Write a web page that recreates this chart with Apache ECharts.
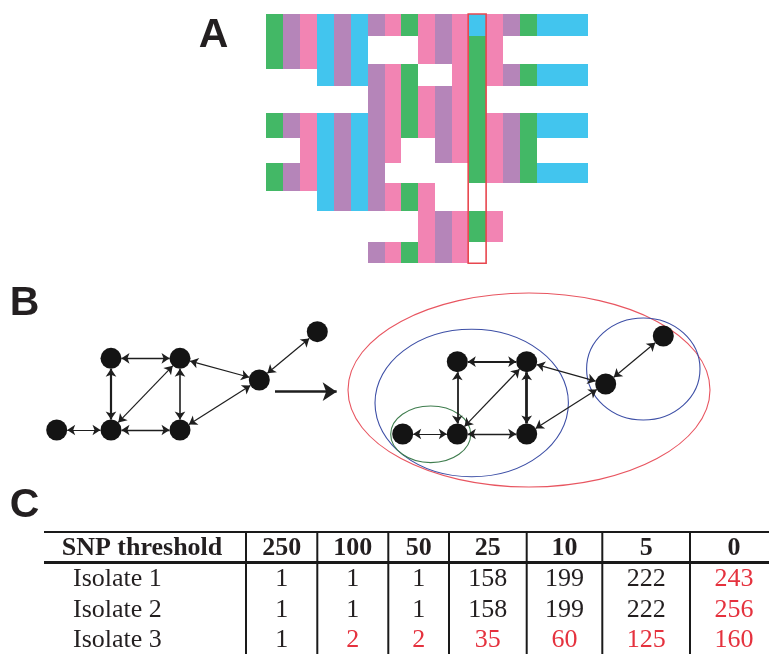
<!DOCTYPE html>
<html><head><meta charset="utf-8">
<script src="https://cdn.jsdelivr.net/npm/echarts@6/dist/echarts.min.js"></script>
<style>html,body{margin:0;padding:0;background:#fff}#c{width:769px;height:654px}</style>
</head><body><div id="c"></div><script>
// ---------- Panel A: read alignment ----------
const bases = ['A', 'C', 'G', 'T'];
const baseColors = ['#43b866', '#b585b9', '#f284b3', '#42c5ee'];
const alignmentRows = [
  "ACGTCTCGAGCGTGCATTT",
  "ACGTCT---GCGAG-----",
  "ACGTCTCGA--GAGCATTT",
  "---TCTCGA--GAGCATTT",
  "------CGAGCGA------",
  "ACGTCTCGAGCGAGCATTT",
  "--GTCTCG--CGAGCA---",
  "ACGTCTC-----AGCATTT",
  "ACGTCTCGAG---------",
  "---TCTCGAG---------",
  "---------GCGAG-----",
  "------CGAGCG-------"
];
const rowEdges = [0, 22, 50, 55, 72, 98.5, 123.5, 149, 168.5, 177, 196.7, 228, 249.3];
const snpColumn = 12;

// ---------- Panel B: networks ----------
const nodesBefore = [[5.67,15.0],[11.1,15.0],[18.0,15.0],[11.1,7.83],[18.0,7.83],[25.93,10.0],[31.73,5.17]];
const nodesAfter  = [[40.27,15.4],[45.73,15.4],[52.67,15.4],[45.73,8.17],[52.67,8.17],[60.57,10.4],[66.33,5.6]];
const edgeList = [[0,1],[1,2],[1,3],[3,4],[4,2],[1,4],[4,5],[2,5],[5,6]];
const edgeWidthBefore = [1.2,1.3,2.2,1.3,1.6,1.2,1.2,1.2,1.2];
const edgeWidthAfter  = [1.2,1.3,1.8,1.8,2.8,1.2,1.2,1.2,1.2];
const transitionArrow = [[27.5,11.17],[33.67,11.17]];
const clusterCenters = [[52.9,11.0],[47.17,12.3],[64.33,8.9],[43.07,15.43]];
const clusterRadii   = [[18.1,9.7],[9.67,7.37],[5.67,5.1],[4.0,2.83]];
const clusterColors  = ['#e85560','#3d4fa6','#3d4fa6','#3f7d4e'];

// ---------- Panel C: table ----------
const tableHeader = 'SNP threshold';
const thresholds = ['250','100','50','25','10','5','0'];
const isolates = ['Isolate 1','Isolate 2','Isolate 3'];
const isolate1 = [1,1,1,158,199,222,243];
const isolate2 = [1,1,1,158,199,222,256];
const isolate3 = [1,2,2,35,60,125,160];
const isolate1New = [0,0,0,0,0,0,1];
const isolate2New = [0,0,0,0,0,0,1];
const isolate3New = [0,1,1,1,1,1,1];
const colEdges = [202, 273.3, 344.3, 405, 482.7, 558.3, 646, 734];

// ---------- build ----------
const cellData = [];
alignmentRows.forEach((row, s) => {
  for (let c = 0; c < row.length; c++) {
    const b = bases.indexOf(row[c]);
    if (b >= 0) cellData.push([c, s, b]);
  }
});

const tableValues = [isolate1, isolate2, isolate3];
const tableNew = [isolate1New, isolate2New, isolate3New];
const textData = [];
textData.push({ value: [17.7, 0], t: tableHeader, bold: true, left: true, red: false });
thresholds.forEach((t, i) => textData.push({ value: [(colEdges[i] + colEdges[i+1]) / 2, 0], t, bold: true, left: false, red: false }));
isolates.forEach((name, r) => {
  textData.push({ value: [29, r + 1], t: name, bold: false, left: true, red: false });
  tableValues[r].forEach((v, i) => textData.push({ value: [(colEdges[i] + colEdges[i+1]) / 2, r + 1], t: String(v), bold: false, left: false, red: !!tableNew[r][i] }));
});

const chart = echarts.init(document.getElementById('c'), null, { renderer: 'canvas' });
const hidden = { show: false };
chart.setOption({
  animation: false,
  backgroundColor: '#fff',
  grid: [
    { left: 266, top: 14, width: 321.7, height: 249.3 },
    { left: 0, top: 280, width: 769, height: 220 },
    { left: 44, top: 532, width: 725, height: 128 }
  ],
  xAxis: [
    { type: 'value', gridIndex: 0, min: 0, max: 19, ...hidden },
    { type: 'value', gridIndex: 1, min: 0, max: 76.9, ...hidden },
    { type: 'value', gridIndex: 2, min: 0, max: 725, ...hidden }
  ],
  yAxis: [
    { type: 'value', gridIndex: 0, min: 0, max: 249.3, inverse: true, ...hidden },
    { type: 'value', gridIndex: 1, min: 0, max: 22, inverse: true, ...hidden },
    { type: 'category', gridIndex: 2, data: ['header'].concat(isolates), inverse: true, ...hidden }
  ],
  graphic: [
    { type: 'text', x: 213.5, y: 36, style: { text: 'A', font: 'bold 41px "Liberation Sans"', fill: '#231f20', align: 'center', verticalAlign: 'middle' } },
    { type: 'text', x: 24.5, y: 303.5, style: { text: 'B', font: 'bold 41px "Liberation Sans"', fill: '#231f20', align: 'center', verticalAlign: 'middle' } },
    { type: 'text', x: 24.5, y: 505.5, style: { text: 'C', font: 'bold 41px "Liberation Sans"', fill: '#231f20', align: 'center', verticalAlign: 'middle' } }
  ],
  series: [
    {
      type: 'custom', xAxisIndex: 0, yAxisIndex: 0, data: cellData, silent: true,
      renderItem: (params, api) => {
        const c = api.value(0), s = api.value(1), b = api.value(2);
        const p0 = api.coord([c, rowEdges[s]]), p1 = api.coord([c + 1, rowEdges[s + 1]]);
        const x = Math.round(p0[0]), y = Math.round(p0[1]);
        return { type: 'rect', shape: { x, y, width: Math.round(p1[0]) - x, height: Math.round(p1[1]) - y }, style: { fill: baseColors[b] } };
      }
    },
    {
      type: 'custom', xAxisIndex: 0, yAxisIndex: 0, data: [[snpColumn, 0]], silent: true, z: 5,
      renderItem: (params, api) => {
        const c = api.value(0);
        const p0 = api.coord([c, rowEdges[0]]), p1 = api.coord([c + 1, rowEdges[rowEdges.length - 1]]);
        return { type: 'rect', shape: { x: p0[0] - 1, y: p0[1], width: p1[0] - p0[0] + 1, height: p1[1] - p0[1] }, style: { fill: 'none', stroke: '#e8474f', lineWidth: 1.6 } };
      }
    },
    {
      type: 'custom', xAxisIndex: 1, yAxisIndex: 1, silent: true,
      data: clusterCenters.map((c, i) => [c[0], c[1], i]),
      renderItem: (params, api) => {
        const i = api.value(2);
        const p = api.coord([api.value(0), api.value(1)]);
        const r = api.size(clusterRadii[i]);
        return { type: 'ellipse', shape: { cx: p[0], cy: p[1], rx: r[0], ry: r[1] }, style: { fill: 'none', stroke: clusterColors[i], lineWidth: 1.1 } };
      }
    },
    ...[[nodesBefore, edgeWidthBefore], [nodesAfter, edgeWidthAfter]].map(([nodes, widths]) => ({
      type: 'graph', coordinateSystem: 'cartesian2d', xAxisIndex: 1, yAxisIndex: 1, silent: true, z: 3,
      symbol: 'circle', symbolSize: 21, itemStyle: { color: '#141414' },
      edgeSymbol: ['arrow', 'arrow'], edgeSymbolSize: [8, 8],
      label: { show: false }, emphasis: { disabled: true },
      lineStyle: { color: '#1e1e1e', width: 1.2, opacity: 1 },
      data: nodes.map(v => ({ value: v })),
      links: edgeList.map(([s, t], i) => ({ source: s, target: t, lineStyle: { width: widths[i] } }))
    })),
    {
      type: 'graph', coordinateSystem: 'cartesian2d', xAxisIndex: 1, yAxisIndex: 1, silent: true, z: 3,
      symbol: 'circle', symbolSize: 0.1, itemStyle: { color: '#000' },
      edgeSymbol: ['none', 'arrow'], edgeSymbolSize: [0, 14],
      label: { show: false }, emphasis: { disabled: true },
      lineStyle: { color: '#1e1e1e', width: 2.6, opacity: 1 },
      data: transitionArrow.map(v => ({ value: v })),
      links: [{ source: 0, target: 1 }]
    },
    {
      type: 'custom', xAxisIndex: 2, yAxisIndex: 2, silent: true, data: [[0, 0]],
      renderItem: (params, api) => {
        const band = api.size([0, 1])[1];
        const top = api.coord([0, 0])[1] - band / 2;
        const xl = api.coord([0, 0])[0], xr = api.coord([725, 0])[0];
        const kids = [
          { type: 'line', shape: { x1: xl, y1: top, x2: xr, y2: top }, style: { stroke: '#1a1a1a', lineWidth: 2.2 } },
          { type: 'line', shape: { x1: xl, y1: top + band, x2: xr, y2: top + band }, style: { stroke: '#1a1a1a', lineWidth: 3 } }
        ];
        for (let i = 0; i < colEdges.length - 1; i++) {
          const x = api.coord([colEdges[i], 0])[0];
          kids.push({ type: 'line', shape: { x1: x, y1: top, x2: x, y2: top + band * 4 }, style: { stroke: '#1a1a1a', lineWidth: 2 } });
        }
        return { type: 'group', children: kids };
      }
    },
    {
      type: 'custom', xAxisIndex: 2, yAxisIndex: 2, silent: true, data: textData,
      renderItem: (params, api) => {
        const d = textData[params.dataIndex];
        const p = api.coord([api.value(0), api.value(1)]);
        return { type: 'text', x: p[0], y: p[1] + 1.5, style: {
          text: d.t, fill: d.red ? '#e5323e' : '#231f20',
          font: (d.bold ? 'bold ' : '') + '26px "Liberation Serif"',
          align: d.left ? 'left' : 'center', verticalAlign: 'middle' } };
      }
    }
  ]
});
</script></body></html>
